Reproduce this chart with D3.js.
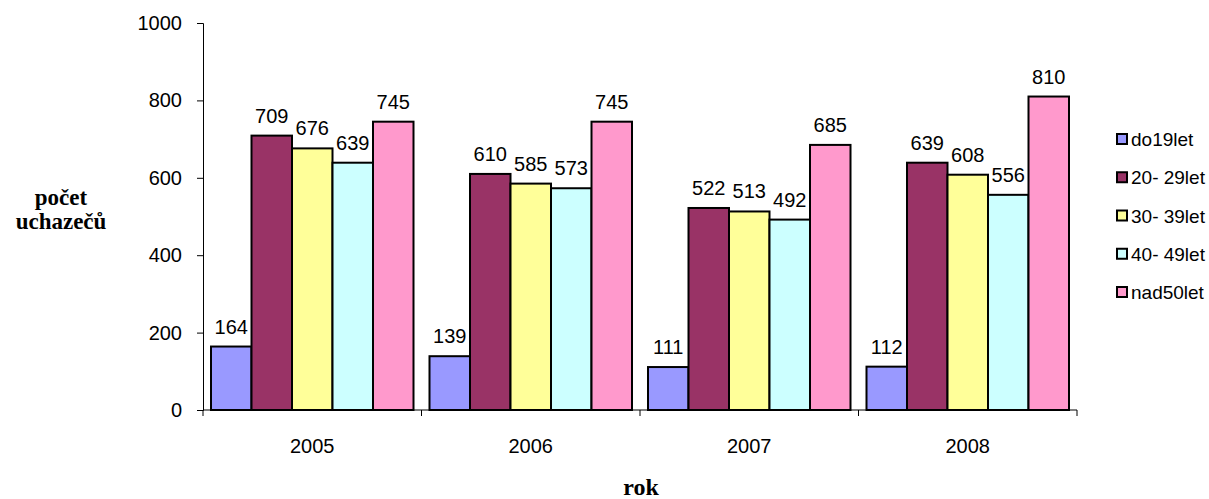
<!DOCTYPE html>
<html>
<head>
<meta charset="utf-8">
<script src="https://cdn.jsdelivr.net/npm/d3@7/dist/d3.min.js"></script>
<style>
  html, body { margin: 0; padding: 0; background: #fff; }
  svg { display: block; }
</style>
</head>
<body>
<svg id="chart" width="1209" height="499"></svg>
<script>
// Uchazeči o zaměstnání podle věkových skupin
const years = ["2005", "2006", "2007", "2008"];
const groups = ["do19let", "20- 29let", "30- 39let", "40- 49let", "nad50let"];
const do19let = [164, 139, 111, 112];
const let20_29 = [709, 610, 522, 639];
const let30_39 = [676, 585, 513, 608];
const let40_49 = [639, 573, 492, 556];
const nad50let = [745, 745, 685, 810];
const yTicks = [0, 200, 400, 600, 800, 1000];
const colors = ["#9999FF", "#993366", "#FFFF99", "#CCFFFF", "#FF99CC"];

const seriesValues = [do19let, let20_29, let30_39, let40_49, nad50let];

const svg = d3.select("#chart");
const plot = { left: 203, right: 1077, top: 23, bottom: 410 };

const x0 = d3.scaleBand().domain(years).range([plot.left, plot.right]).paddingInner(0).paddingOuter(0);
const x1 = d3.scaleBand().domain(groups).range([8, x0.bandwidth() - 8]).padding(0);
const y = d3.scaleLinear().domain([0, 1000]).range([plot.bottom, plot.top]);

const font = "Arial, 'Liberation Sans', sans-serif";

// Y axis
const yAxis = svg.append("g")
  .attr("transform", `translate(${plot.left},0)`)
  .call(d3.axisLeft(y).tickValues(yTicks).tickSize(6).tickPadding(15).tickFormat(d3.format("d")));
yAxis.selectAll("path, line").attr("stroke", "#000").attr("stroke-width", 1);
yAxis.selectAll("text").attr("font-family", font).attr("font-size", 20).attr("fill", "#000");

// X axis with ticks at category boundaries
const xg = svg.append("g").attr("transform", `translate(0,${plot.bottom})`);
xg.append("line").attr("x1", plot.left).attr("x2", plot.right).attr("y1", 0).attr("y2", 0)
  .attr("stroke", "#000");
const boundaries = years.map(d => x0(d)).concat([x0(years[years.length - 1]) + x0.bandwidth()]);
xg.selectAll("line.tick").data(boundaries).join("line")
  .attr("class", "tick")
  .attr("x1", d => d).attr("x2", d => d).attr("y1", 0).attr("y2", 6)
  .attr("stroke", "#000");
xg.selectAll("text").data(years).join("text")
  .attr("x", d => x0(d) + x0.bandwidth() / 2)
  .attr("y", 43)
  .attr("text-anchor", "middle")
  .attr("font-family", font).attr("font-size", 20)
  .text(d => d);

// Bars
const barData = [];
years.forEach((yr, i) => {
  groups.forEach((g, j) => {
    barData.push({ year: yr, group: g, value: seriesValues[j][i], color: colors[j] });
  });
});

const bars = svg.append("g");
bars.selectAll("rect").data(barData).join("rect")
  .attr("x", d => x0(d.year) + x1(d.group))
  .attr("y", d => y(d.value))
  .attr("width", x1.bandwidth())
  .attr("height", d => y(0) - y(d.value))
  .attr("fill", d => d.color)
  .attr("stroke", "#000")
  .attr("stroke-width", 2);

// Value labels
bars.selectAll("text").data(barData).join("text")
  .attr("x", d => x0(d.year) + x1(d.group) + x1.bandwidth() / 2)
  .attr("y", d => y(d.value) - 13)
  .attr("text-anchor", "middle")
  .attr("font-family", font).attr("font-size", 20)
  .text(d => d.value);

// Axis titles
const titleFont = "'Liberation Serif', 'Times New Roman', serif";
const yt = svg.append("text")
  .attr("text-anchor", "middle")
  .attr("font-family", titleFont).attr("font-size", 23).attr("font-weight", "bold");
yt.append("tspan").attr("x", 61).attr("y", 205).text("počet");
yt.append("tspan").attr("x", 61).attr("y", 229).text("uchazečů");

svg.append("text")
  .attr("x", 641).attr("y", 495)
  .attr("text-anchor", "middle")
  .attr("font-family", titleFont).attr("font-size", 24).attr("font-weight", "bold")
  .text("rok");

// Legend
const legend = svg.append("g");
const legendY = d3.scalePoint().domain(groups).range([139, 292]);
const items = legend.selectAll("g").data(groups).join("g")
  .attr("transform", d => `translate(1117,${legendY(d)})`);
items.append("rect")
  .attr("x", 0).attr("y", -5).attr("width", 10).attr("height", 10)
  .attr("fill", (d, i) => colors[i])
  .attr("stroke", "#000").attr("stroke-width", 2);
items.append("text")
  .attr("x", 14).attr("y", 7)
  .attr("font-family", font).attr("font-size", 19)
  .text(d => d);
</script>
</body>
</html>
